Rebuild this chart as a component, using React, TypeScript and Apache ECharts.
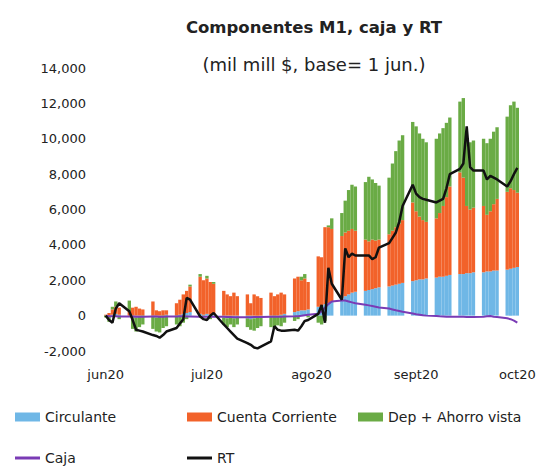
import React, { useEffect, useRef } from "react";
import * as echarts from "echarts";

// Business days (Mon-Fri) from 1 jun 2020 to 1 oct 2020, in order
const startDate = "2020-06-01";
const endDate = "2020-10-01";
const monthLabels = ["jun20", "jul20", "ago20", "sept20", "oct20"];
const seriesNames = ["Circulante", "Cuenta Corriente", "Dep + Ahorro vista", "Caja", "RT"];

const circulante = [
  // jun (22)
  0, -50, 50, 100, 50, 0, -50, -100, -50, 0, -50, -100, -50, 0, 50, 0, 50, 100, 150, 200, 100, 50,
  // jul (23)
  100, 50, 50, -100, -150, -100, -150, -100, -150, -200, -150, -100, -100, -50, 0, -50, 50, 100, 200, 250, 300, 300, 350,
  // ago (21)
  500, 550, 650, 700, 800, 1000, 1100, 1200, 1300, 1350, 1400, 1450, 1500, 1550, 1600, 1650, 1700, 1750, 1800, 1850, 1950,
  // sept (22)
  2000, 2050, 2050, 2100, 2150, 2200, 2200, 2250, 2300, 2350, 2350, 2400, 2400, 2450, 2450, 2500, 2500, 2550, 2550, 2600, 2650, 2700,
  // oct (1)
  2750,
];

const cuentaCorriente = [
  50, 150, 300, 400, 400, 250, 450, 500, 400, 350, 800, 300, 250, 300, 250, 700, 850, 1100, 1250, 1450, 2100, 1950,
  2000, 1850, 1750, 1400, 1200, 1100, 1300, 1100, 1200, 700, 1200, 1100, 1000, 1300, 1100, 1200, 1250, 1100, 1900, 1950, 1700, 1800, 1550,
  2850, 2750, 4350, 4300, 4100, 3500, 3600, 3600, 3600, 3450, 2900, 2750, 2800, 2700, 2700, 2950, 3100, 3250, 3400, 3550, 4450,
  3900, 3550, 3350, 3200, 3350, 3600, 4000, 4450, 5000, 5750, 5450, 3800, 3600, 3650, 3750, 3200, 3400, 3750, 4050, 4400, 4550, 4400,
  4200,
];

const depAhorroVista = [
  -100, -300, 150, 300, -200, 600, -700, -800, -600, -500, -700, -800, -900, -700, -600, -500, -600, -400, -200, 100, 150, -100,
  150, -200, 100, -400, -500, -400, -500, -400, -500, -600, -700, -600, -500, -600, -700, -500, -600, -400, -300, -200, 200, 250, -100,
  -400, -500, -300, 100, 600, 1300, 1800, 2300, 2500, 2500, 3250, 3650, 3400, 3250, 3050, 3200, 3800, 4300, 4700, 4800, 4550,
  4800, 4700, 4600, 4500, 4500, 4500, 4400, 4200, 3900, 4000, 4500, 3800, 3800, 3800, 3800, 4050, 4100, 4100, 4050, 4250, 4700, 5000,
  4800,
];

const caja = [
  0, -30, -40, -40, -50, -50, -50, -60, -60, -60, -50, -50, -60, -60, -50, -50, -40, -40, -50, -50, -60, -60,
  -60, -70, -70, -70, -80, -80, -90, -90, -90, -90, -80, -80, -80, -70, -70, -60, -60, -50, -40, -30, -10, 20, 50,
  100, 250, 450, 650, 800, 850, 850, 800, 750, 700, 620, 580, 540, 500, 460, 400, 350, 300, 260, 220, 120,
  80, 50, 20, 0, -20, -40, -50, -60, -60, -70, -70, -80, -80, -80, -60, -40, -20, -60, -80, -150, -200, -280,
  -400,
];

const rt = [
  0, -250, -400, 400, 700, 250, -250, -800, -850, -900, -1100, -1150, -1250, -1100, -900, -700, -450, -200, 1000, 900, -50, -200,
  -250, 0, 150, -500, -700, -900, -1100, -1300, -1550, -1650, -1800, -1850, -1750, -1450, -600, -800, -850, -850, -800, -850, -600, -300, -250,
  100, 600, -400, 2700, 1800, 900, 3800, 3300, 3500, 3400, 3400, 3400, 3200, 3300, 3850, 4100, 4400, 4700, 5300, 6200, 7400,
  6900, 6700, 6600, 6550, 6400, 6500, 6600, 7200, 8000, 8300, 8600, 10700, 8400, 8200, 8200, 7700, 7900, 7800, 7700, 7300, 7600, 8000,
  8350,
];

const colors = {
  circulante: "#6fb7e6",
  cuenta: "#f2622a",
  dep: "#6aab45",
  caja: "#7a3bb5",
  rt: "#111111",
};

function buildCalendar() {
  const cats: string[] = [];
  const bizIndex: (number | null)[] = [];
  const d = new Date(startDate + "T00:00:00Z");
  const end = new Date(endDate + "T00:00:00Z");
  let k = 0;
  while (d.getTime() <= end.getTime()) {
    cats.push(d.toISOString().slice(0, 10));
    const wd = d.getUTCDay();
    if (wd === 0 || wd === 6) bizIndex.push(null);
    else bizIndex.push(k++);
    d.setUTCDate(d.getUTCDate() + 1);
  }
  return { cats, bizIndex };
}

export default function App() {
  const ref = useRef<HTMLDivElement>(null);
  useEffect(() => {
    document.body.style.margin = "0";
    if (!ref.current) return;
    const chart = echarts.init(ref.current, null, { renderer: "svg" });
    const { cats, bizIndex } = buildCalendar();
    const mapArr = (arr: number[]) => bizIndex.map((i) => (i === null ? null : arr[i]));
    const font = "DejaVu Sans";
    const legendBase = {
      orient: "horizontal" as const,
      itemWidth: 25,
      itemGap: 4,
      padding: 0,
      textStyle: { fontFamily: font, fontSize: 14, color: "#222" },
    };
    chart.setOption({
      animation: false,
      textStyle: { fontFamily: font },
      graphic: [
        {
          type: "text",
          x: 314,
          y: 27,
          style: {
            text: "Componentes M1, caja y RT",
            font: `bold 16.5px '${font}'`,
            fill: "#222",
            textAlign: "center",
            textVerticalAlign: "middle",
          },
        },
        {
          type: "text",
          x: 314,
          y: 64,
          style: {
            text: "(mil mill $, base= 1 jun.)",
            font: `18px '${font}'`,
            fill: "#222",
            textAlign: "center",
            textVerticalAlign: "middle",
          },
        },
      ],
      legend: [
        { ...legendBase, data: [seriesNames[0]], left: 15, top: 410, itemHeight: 9, icon: "rect" },
        { ...legendBase, data: [seriesNames[1]], left: 187, top: 410, itemHeight: 9, icon: "rect" },
        { ...legendBase, data: [seriesNames[2]], left: 358, top: 410, itemHeight: 9, icon: "rect" },
        { ...legendBase, data: [seriesNames[3]], left: 15, top: 451, itemHeight: 3, icon: "rect" },
        { ...legendBase, data: [seriesNames[4]], left: 187, top: 451, itemHeight: 3, icon: "rect" },
      ],
      grid: { left: 104, right: 25, top: 68, bottom: 119, containLabel: false },
      xAxis: {
        type: "category",
        data: cats,
        boundaryGap: true,
        axisLine: { show: false },
        axisTick: { show: false },
        splitLine: { show: false },
        axisLabel: {
          interval: (_i: number, v: string) => v.endsWith("-01"),
          formatter: (v: string) => monthLabels[parseInt(v.slice(5, 7), 10) - 6] ?? "",
          margin: 17,
          fontFamily: font,
          fontSize: 13,
          color: "#222",
        },
      },
      yAxis: {
        type: "value",
        min: -2000,
        max: 14000,
        interval: 2000,
        axisLine: { show: false },
        axisTick: { show: false },
        splitLine: { show: false },
        axisLabel: {
          margin: 18,
          fontFamily: font,
          fontSize: 13,
          color: "#222",
          formatter: (v: number) => v.toLocaleString("en-US"),
        },
      },
      series: [
        {
          name: seriesNames[0],
          type: "bar",
          stack: "m1",
          barCategoryGap: "0%",
          itemStyle: { color: colors.circulante },
          data: mapArr(circulante),
        },
        {
          name: seriesNames[1],
          type: "bar",
          stack: "m1",
          barCategoryGap: "0%",
          itemStyle: { color: colors.cuenta },
          data: mapArr(cuentaCorriente),
        },
        {
          name: seriesNames[2],
          type: "bar",
          stack: "m1",
          barCategoryGap: "0%",
          itemStyle: { color: colors.dep },
          data: mapArr(depAhorroVista),
        },
        {
          name: seriesNames[3],
          type: "line",
          connectNulls: true,
          symbol: "none",
          lineStyle: { color: colors.caja, width: 2 },
          itemStyle: { color: colors.caja },
          data: mapArr(caja),
          z: 3,
        },
        {
          name: seriesNames[4],
          type: "line",
          connectNulls: true,
          symbol: "none",
          lineStyle: { color: colors.rt, width: 2.5 },
          itemStyle: { color: colors.rt },
          data: mapArr(rt),
          z: 4,
        },
      ],
    });
    return () => chart.dispose();
  }, []);
  return <div ref={ref} style={{ width: 544, height: 470 }} />;
}
